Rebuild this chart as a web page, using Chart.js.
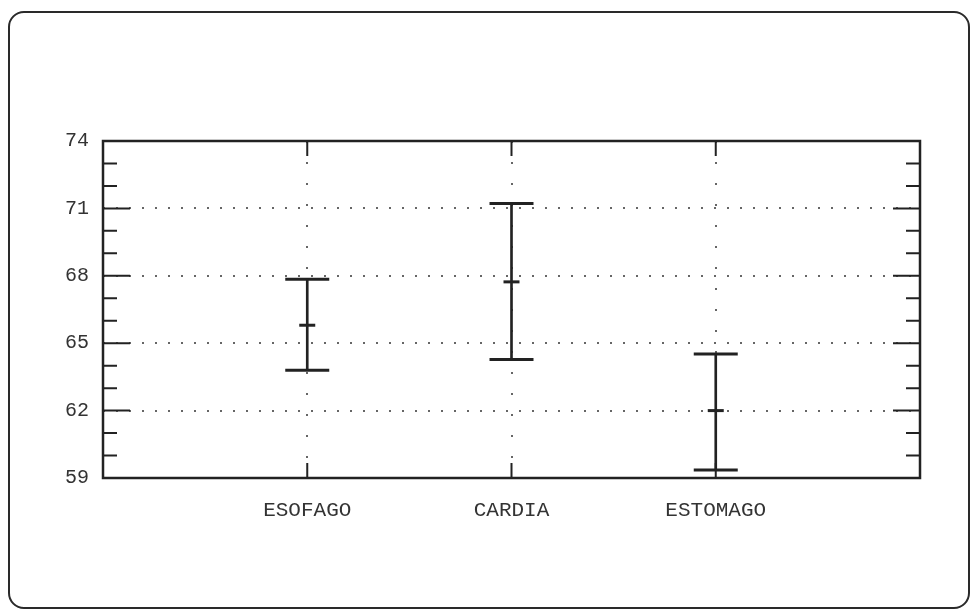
<!DOCTYPE html>
<html>
<head>
<meta charset="utf-8">
<script src="https://cdn.jsdelivr.net/npm/chart.js@4.4.1/dist/chart.umd.min.js"></script>
<style>
  html, body { margin: 0; padding: 0; background: #fff; }
  #frame {
    position: absolute; left: 8px; top: 11px; width: 958px; height: 594px;
    border: 2px solid #2a2a2a; border-radius: 16px;
  }
  #wrap { position: absolute; left: 0; top: 0; width: 973px; height: 611px; }
</style>
</head>
<body>
<div id="frame"></div>
<div id="wrap"><canvas id="chart" width="973" height="611"></canvas></div>
<script>
const categories = ["ESOFAGO", "CARDIA", "ESTOMAGO"];
const upper = [67.85, 71.22, 64.52];
const mean = [65.8, 67.73, 62.0];
const lower = [63.8, 64.28, 59.36];
const yTicks = [59, 62, 65, 68, 71, 74];

const INK = "#222";
const FONT = "'Liberation Mono', 'DejaVu Sans Mono', monospace";

// empty slots at both ends so the three groups sit at 1/4, 2/4, 3/4 of the width
const axisLabels = ["", ...categories, ""];
const pad = (arr) => [null, ...arr, null];

// plot frame and the short inward tick marks
const frameTicks = {
  id: "frameTicks",
  afterDraw(chart) {
    const { ctx, chartArea: a, scales } = chart;
    ctx.save();
    ctx.strokeStyle = INK;
    ctx.lineWidth = 2;
    ctx.beginPath();
    scales.y.ticks.forEach((t) => {
      const y = scales.y.getPixelForValue(t.value);
      const len = yTicks.includes(t.value) ? 27 : 14;
      ctx.moveTo(a.left, y); ctx.lineTo(a.left + len, y);
      ctx.moveTo(a.right - len, y); ctx.lineTo(a.right, y);
    });
    categories.forEach((c, i) => {
      const x = scales.x.getPixelForValue(i + 1);
      ctx.moveTo(x, a.bottom); ctx.lineTo(x, a.bottom - 15);
      ctx.moveTo(x, a.top); ctx.lineTo(x, a.top + 15);
    });
    ctx.stroke();
    ctx.lineWidth = 2.5;
    ctx.strokeRect(a.left, a.top, a.right - a.left, a.bottom - a.top);
    ctx.restore();
  }
};

new Chart(document.getElementById("chart"), {
  type: "bar",
  data: {
    labels: axisLabels,
    datasets: [
      {
        data: pad(categories.map((c, i) => [lower[i], upper[i]])),
        backgroundColor: INK,
        barThickness: 2,
        grouped: false,
      },
      {
        type: "line",
        data: pad(upper),
        showLine: false,
        pointStyle: "line",
        pointRadius: 22,
        borderColor: INK,
        borderWidth: 3,
      },
      {
        type: "line",
        data: pad(lower),
        showLine: false,
        pointStyle: "line",
        pointRadius: 22,
        borderColor: INK,
        borderWidth: 3,
      },
      {
        type: "line",
        data: pad(mean),
        showLine: false,
        pointStyle: "line",
        pointRadius: 8,
        borderColor: INK,
        borderWidth: 3,
      },
    ],
  },
  options: {
    responsive: false,
    animation: false,
    events: [],
    layout: { padding: { top: 141, right: 53, left: 0, bottom: 0 } },
    plugins: { legend: { display: false }, tooltip: { enabled: false } },
    scales: {
      x: {
        type: "category",
        offset: false,
        afterFit: (s) => { s.height = 133; },
        border: { display: false, dash: [2, 19] },
        grid: {
          offset: false,
          drawTicks: false,
          lineWidth: 2,
          color: (ctx) => (axisLabels[ctx.index] ? "#666" : "rgba(0,0,0,0)"),
        },
        ticks: {
          autoSkip: false,
          maxRotation: 0,
          padding: 20,
          color: "#333",
          font: { family: FONT, size: 21 },
        },
      },
      y: {
        min: 59,
        max: 74,
        afterFit: (s) => { s.width = 103; },
        border: { display: false, dash: [2, 11] },
        grid: {
          drawTicks: false,
          lineWidth: 2,
          color: (ctx) => {
            const v = ctx.tick && ctx.tick.value;
            return yTicks.includes(v) && v !== 59 && v !== 74 ? "#666" : "rgba(0,0,0,0)";
          },
        },
        ticks: {
          stepSize: 1,
          autoSkip: false,
          padding: 14,
          color: "#333",
          font: { family: FONT, size: 20 },
          callback: (v) => (yTicks.includes(v) ? String(v) : ""),
        },
      },
    },
  },
  plugins: [frameTicks],
});
</script>
</body>
</html>
